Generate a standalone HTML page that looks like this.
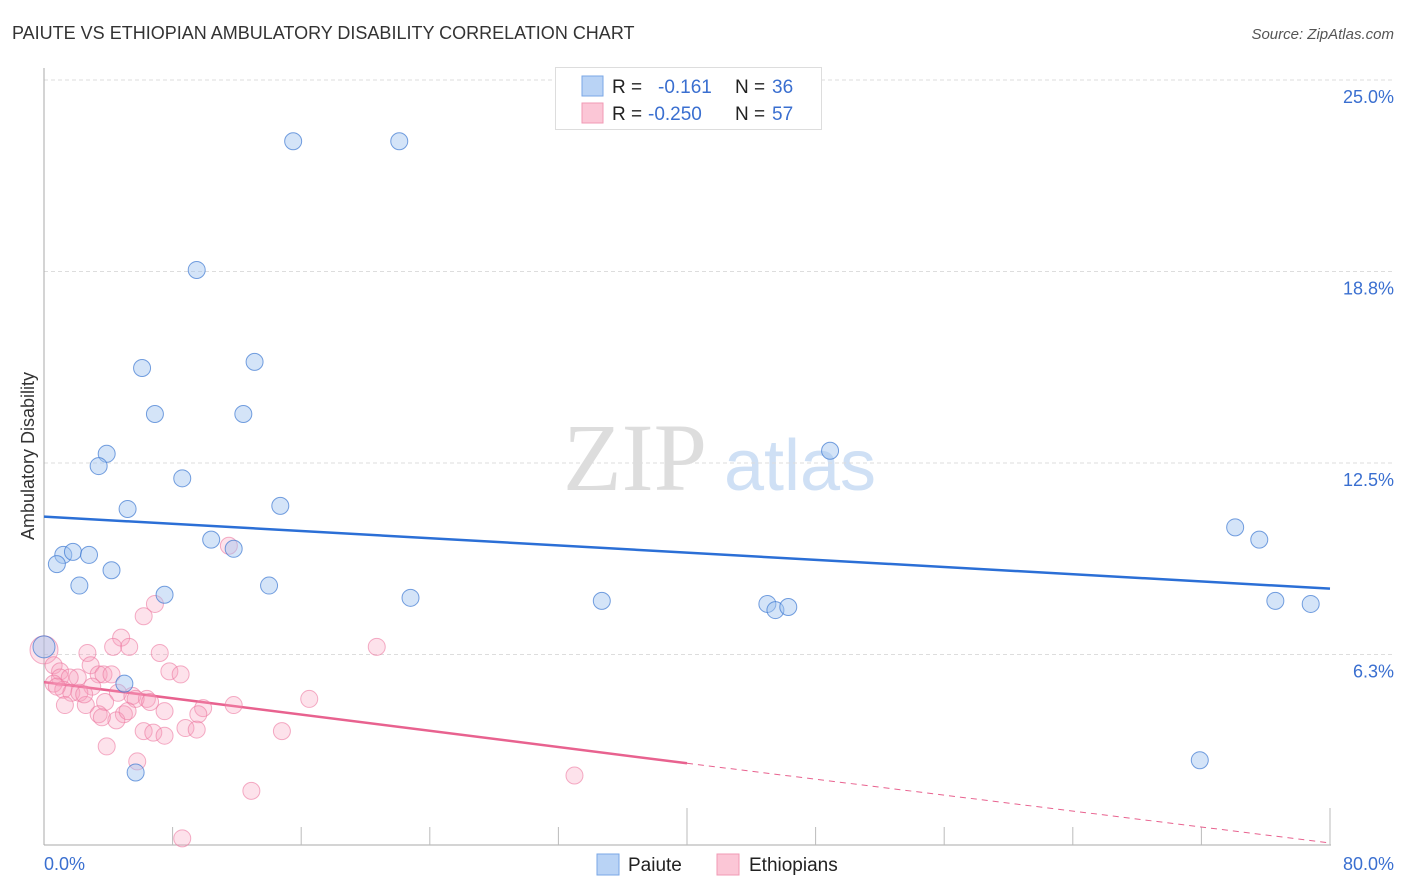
<!DOCTYPE html>
<html><head><meta charset="utf-8"><style>
body{margin:0;background:#fff;font-family:"Liberation Sans",sans-serif;}
svg{display:block}
</style></head><body>
<svg id="chart" width="1406" height="892">
<text x="12" y="39" font-size="18" fill="#333">PAIUTE VS ETHIOPIAN AMBULATORY DISABILITY CORRELATION CHART</text>
<text x="1394" y="39" font-size="15" fill="#555" font-style="italic" text-anchor="end">Source: ZipAtlas.com</text>
<g>
<text x="635" y="490" font-size="96" fill="#ddd" font-family="Liberation Serif, serif" text-anchor="middle">ZIP</text>
<text x="800" y="490" font-size="72" fill="#cfe0f5" text-anchor="middle">atlas</text>
</g>
<g id="grid"></g>
<g id="axes"></g>
<g id="trends"></g>
<g id="points"></g>
<text transform="translate(34,456) rotate(-90)" font-size="18" fill="#333" text-anchor="middle">Ambulatory Disability</text>
<text x="44" y="870" font-size="18" fill="#3a6fd0">0.0%</text>
<text x="1394" y="870" font-size="18" fill="#3a6fd0" text-anchor="end">80.0%</text>
<g>
<rect x="555.5" y="67.5" width="266" height="62" fill="#fff" stroke="#ddd"/>
<rect x="582" y="76" width="21" height="20" fill="#b9d3f5" stroke="#7aa7e6"/>
<rect x="582" y="103" width="21" height="20" fill="#fbc6d6" stroke="#f09ab4"/>
<text x="612" y="93" font-size="19" fill="#222">R =</text>
<text x="658" y="93" font-size="19" fill="#3a6fd0">-0.161</text>
<text x="735" y="93" font-size="19" fill="#222">N =</text>
<text x="772" y="93" font-size="19" fill="#3a6fd0">36</text>
<text x="612" y="120" font-size="19" fill="#222">R =</text>
<text x="648" y="120" font-size="19" fill="#3a6fd0">-0.250</text>
<text x="735" y="120" font-size="19" fill="#222">N =</text>
<text x="772" y="120" font-size="19" fill="#3a6fd0">57</text>
</g>
<g>
<rect x="597" y="854" width="22" height="21" fill="#b9d3f5" stroke="#7aa7e6"/>
<text x="628" y="871" font-size="19" fill="#222">Paiute</text>
<rect x="717" y="854" width="22" height="21" fill="#fbc6d6" stroke="#f09ab4"/>
<text x="749" y="871" font-size="19" fill="#222">Ethiopians</text>
</g>
</svg>
<script>
const yTicks=[6.25,12.5,18.75,25];
const yTickLabels=["6.3%","12.5%","18.8%","25.0%"];
const xTicks=[8,16,24,32,40,48,56,64,72,80];
const paiuteX=[15.5,22.1,9.5,6.1,13.1,6.9,12.4,3.9,3.4,8.6,5.2,14.7,10.4,11.8,4.2,1.2,1.8,2.8,0.8,2.2,7.5,14.0,22.8,34.7,5.0,5.7,48.9,45.0,45.5,46.3,74.1,75.6,76.6,78.8,71.9,0.0];
const paiuteY=[23.0,23.0,18.8,15.6,15.8,14.1,14.1,12.8,12.4,12.0,11.0,11.1,10.0,9.7,9.0,9.5,9.6,9.5,9.2,8.5,8.2,8.5,8.1,8.0,5.3,2.4,12.9,7.9,7.7,7.8,10.4,10.0,8.0,7.9,2.8,6.5];
const ethX=[11.5,6.9,6.2,4.8,4.3,5.3,2.7,7.2,20.7,0.0,2.9,0.6,1.0,7.8,8.5,2.1,3.4,3.7,4.2,1.0,1.6,0.6,3.0,1.2,1.7,2.2,4.6,5.5,6.4,5.7,3.8,16.5,2.6,1.3,9.9,11.8,7.5,9.6,4.97,3.4,4.5,3.6,6.2,6.8,7.5,8.8,9.5,14.8,3.9,5.8,33.0,12.9,8.6,2.5,0.8,6.6,5.2];
const ethY=[9.8,7.9,7.5,6.8,6.5,6.5,6.3,6.3,6.5,6.4,5.9,5.9,5.7,5.7,5.6,5.5,5.6,5.6,5.6,5.5,5.5,5.3,5.2,5.1,5.0,5.0,5.0,4.9,4.8,4.8,4.7,4.8,4.6,4.6,4.5,4.6,4.4,4.3,4.3,4.3,4.1,4.2,3.75,3.7,3.6,3.85,3.8,3.75,3.25,2.76,2.3,1.8,0.25,4.95,5.2,4.7,4.4];
const paiuteTrend=[0,10.75,80,8.4];
const ethTrend=[0,5.35,40,2.7,80,0.1];
const X=v=>44+v*16.075, Y=v=>846-v*30.64;
const NS="http://www.w3.org/2000/svg";
function mk(parent,tag,attrs){const e=document.createElementNS(NS,tag);for(const k in attrs)e.setAttribute(k,attrs[k]);document.getElementById(parent).appendChild(e);return e;}
yTicks.forEach((t,i)=>{
 const l=mk('grid','line',{x1:44,x2:1393,y1:Y(t),y2:Y(t),stroke:'#ddd','stroke-dasharray':'4,3'});
 
 
 const tx=mk('grid','text',{x:1394,y:Y(t)+23,'font-size':18,fill:'#3a6fd0','text-anchor':'end'});
 tx.textContent=yTickLabels[i];
 
 
});
let a=mk('axes','line',{x1:44,x2:44,y1:68,y2:845,stroke:'#aaa'});


a=mk('axes','line',{x1:44,x2:1331,y1:845,y2:845,stroke:'#aaa'});


xTicks.forEach(t=>{
 const tk=mk('axes','line',{x1:X(t),x2:X(t),y1:(t%40===0?808:827),y2:845,stroke:'#bbb'});
 
 
});
let tl=mk('trends','line',{x1:X(paiuteTrend[0]),y1:Y(paiuteTrend[1]),x2:X(paiuteTrend[2]),y2:Y(paiuteTrend[3]),stroke:'#2b6fd6','stroke-width':2.5});


tl=mk('trends','line',{x1:X(ethTrend[0]),y1:Y(ethTrend[1]),x2:X(ethTrend[2]),y2:Y(ethTrend[3]),stroke:'#e8628f','stroke-width':2.5});


tl=mk('trends','line',{x1:X(ethTrend[2]),y1:Y(ethTrend[3]),x2:X(ethTrend[4]),y2:Y(ethTrend[5]),stroke:'#e8628f','stroke-width':1,'stroke-dasharray':'6,5'});


ethX.forEach((x,i)=>{
 const c=mk('points','circle',{cx:X(x),cy:Y(ethY[i]),r:(i===9?14:8.5),fill:'rgba(247,160,188,0.3)',stroke:'rgba(236,120,160,0.6)','stroke-width':1});
 
 
});
paiuteX.forEach((x,i)=>{
 const c=mk('points','circle',{cx:X(x),cy:Y(paiuteY[i]),r:(i===35?11:8.5),fill:'rgba(160,196,240,0.45)',stroke:'rgba(60,120,210,0.7)','stroke-width':1});
 
 
});
</script>
</body></html>
